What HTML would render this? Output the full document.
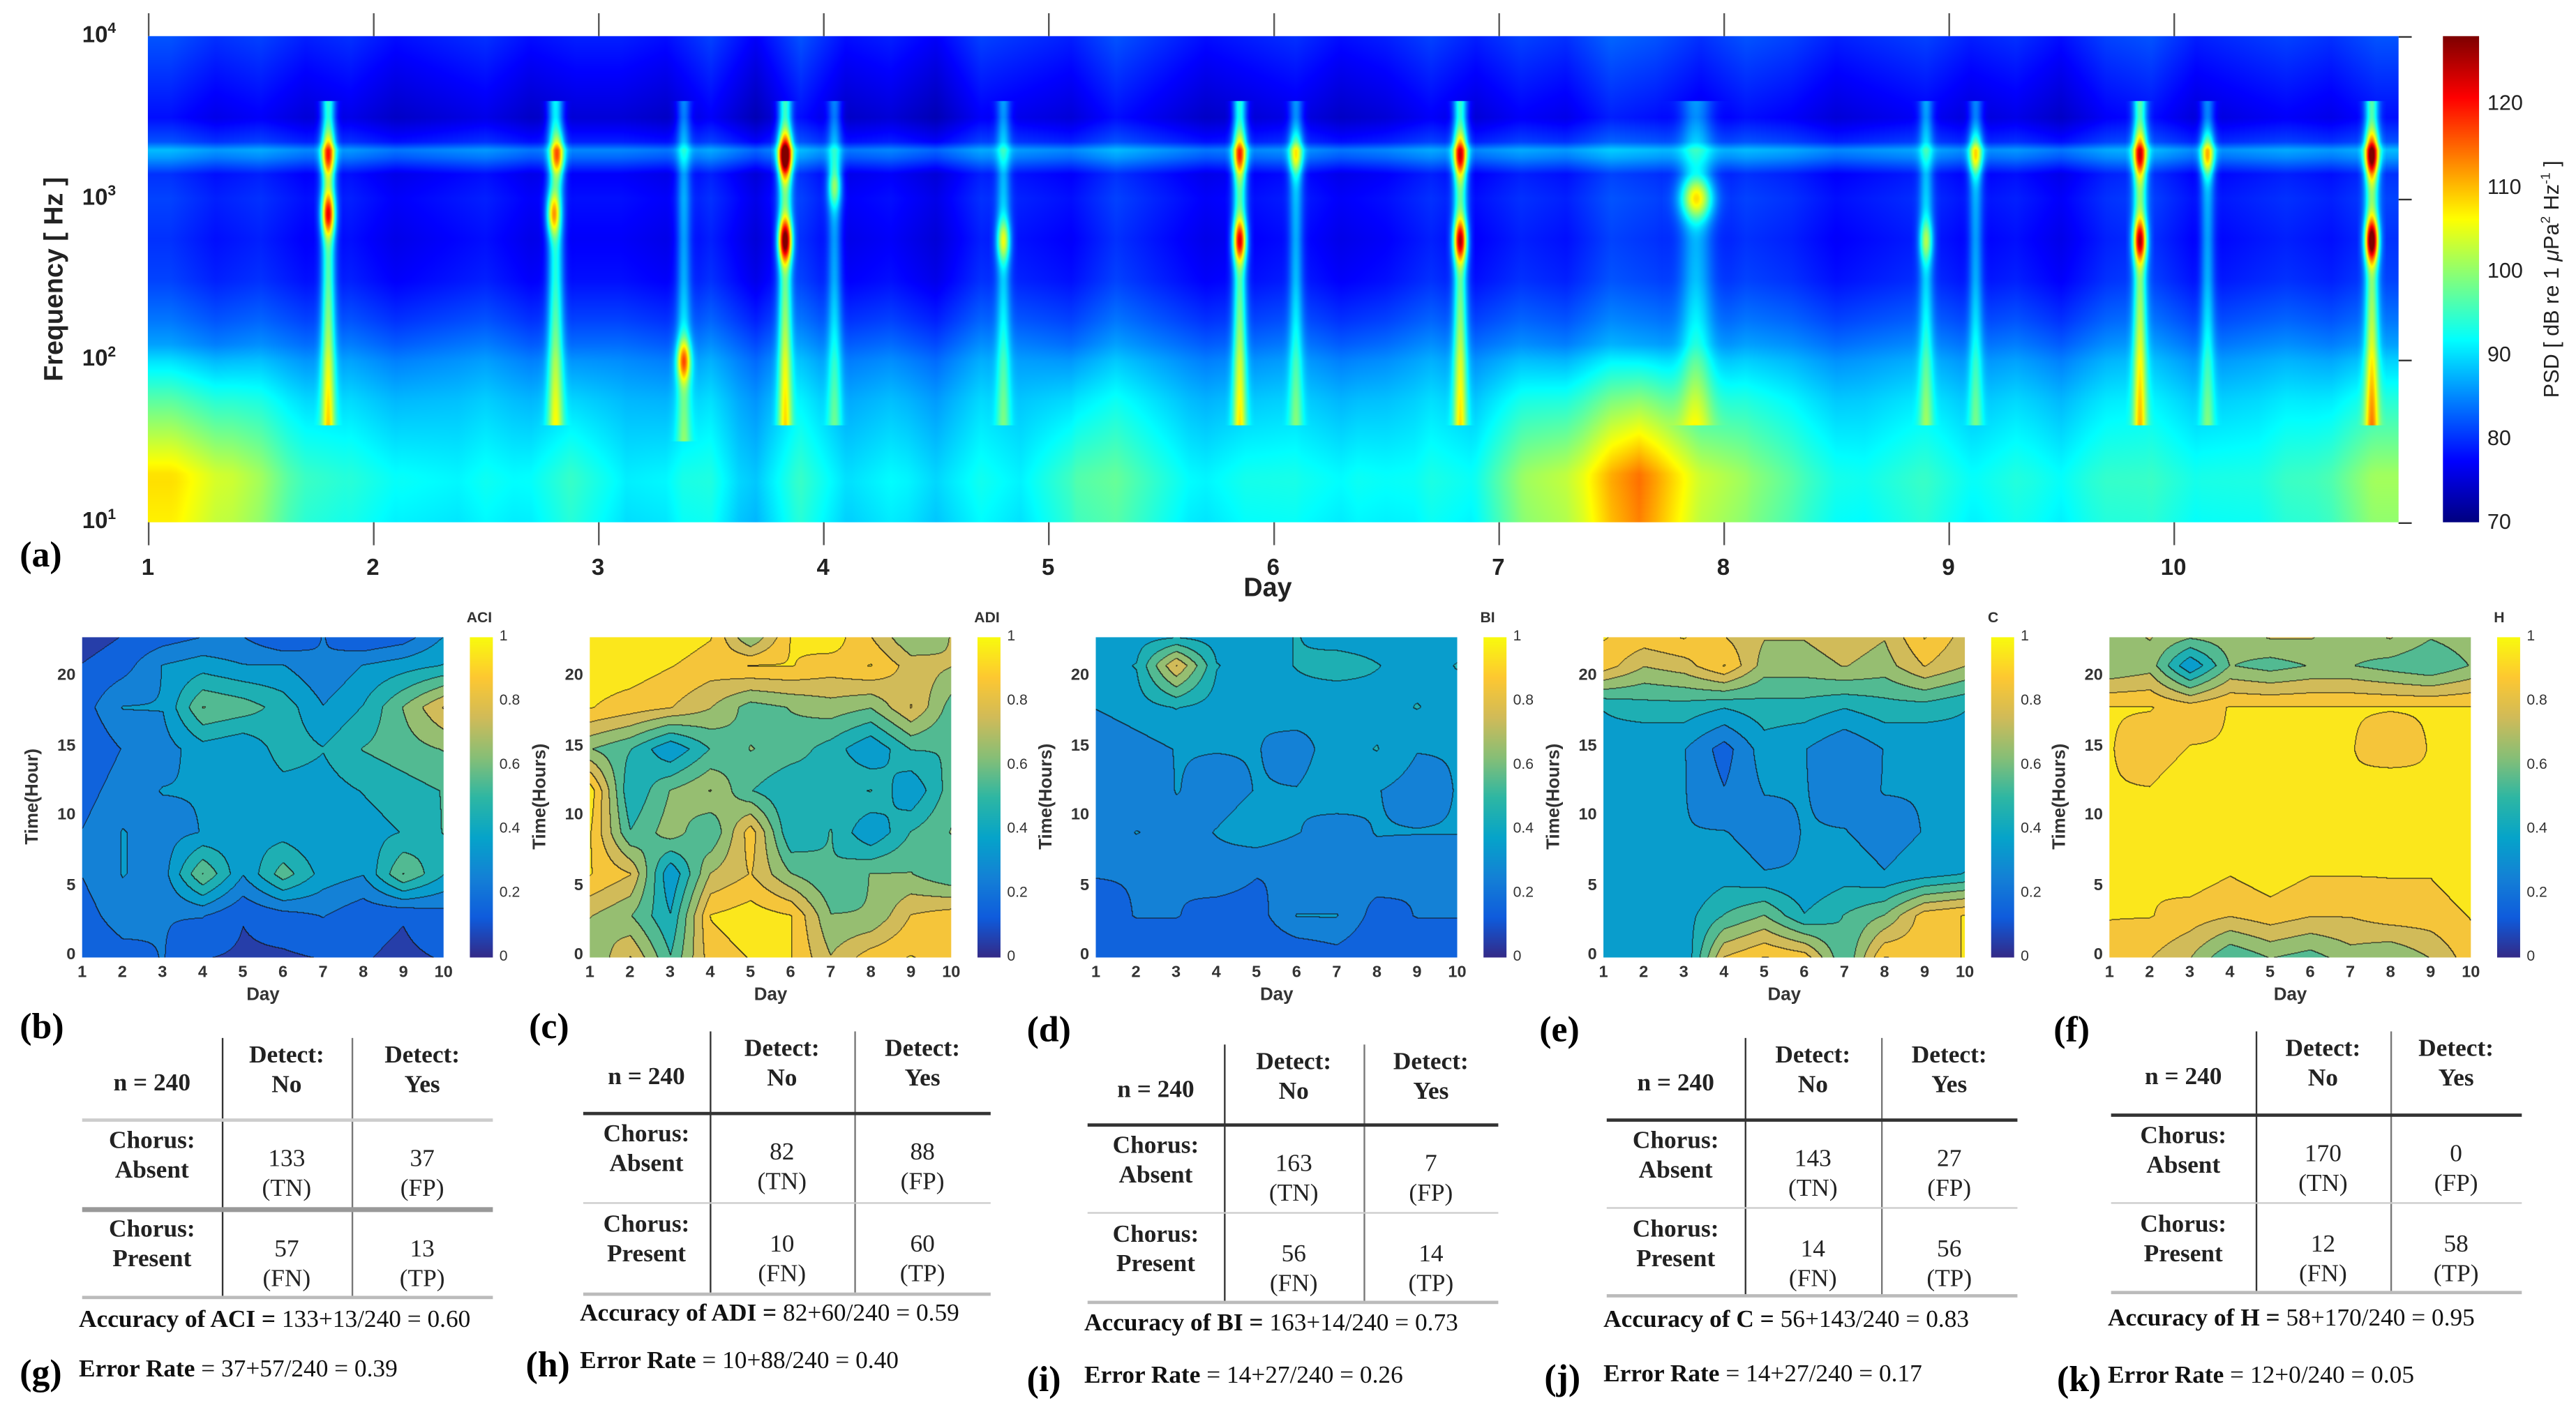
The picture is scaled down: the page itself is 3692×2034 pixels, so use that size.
<!DOCTYPE html>
<html><head><meta charset="utf-8">
<style>
html,body{margin:0;padding:0;background:#fff;}
#root{position:absolute;left:0;top:0;width:1568px;height:864px;transform:scale(2.35459,2.35417);transform-origin:0 0;font-family:"Liberation Sans",sans-serif;color:#222;}
.abs{position:absolute;}
.tk{position:absolute;font-size:10px;font-weight:bold;color:#333;}
.ser{font-family:"Liberation Serif",serif;font-weight:bold;color:#111;}
.lbl{position:absolute;font-family:"Liberation Serif",serif;font-weight:bold;font-size:22px;color:#000;}
.cell{position:absolute;text-align:center;font-family:"Liberation Serif",serif;font-size:15px;line-height:18px;}
.b{font-weight:bold;}
.ln{position:absolute;background:#333;}
</style></head>
<body>
<div id="root">
  <canvas id="spec" class="abs" style="left:90px;top:22px;width:1370px;height:296px"></canvas>
  <canvas id="specbar" class="abs" style="left:1487px;top:22px;width:22px;height:296px"></canvas>
  <div class="abs" style="left:-60px;top:160px;width:190px;height:20px;transform:rotate(-90deg);font-weight:bold;font-size:16px;text-align:center">Frequency [ Hz ]</div>
  <div class="abs" style="left:1450px;top:160px;width:210px;height:20px;transform:rotate(-90deg);font-size:13px;text-align:center">PSD [ dB re 1 <i>μ</i>Pa<sup style="font-size:8px">2</sup> Hz<sup style="font-size:8px">-1</sup> ]</div>
  <div class="abs" style="left:757px;top:350px;font-weight:bold;font-size:16px">Day</div>
  <div class="lbl" style="left:12px;top:325px">(a)</div>
  <div id="dyn"></div>
</div>
<script>
const S=2.3546;
const root=document.getElementById('dyn');
function mk(tag,cls,style,text){const e=document.createElement(tag);if(cls)e.className=cls;e.style.cssText=style;if(text!==undefined)e.innerHTML=text;root.appendChild(e);return e;}

// ---------- Spectrogram data ----------
const freqLog=[1,1.25,1.5,1.75,2,2.25,2.5,2.75,3,3.15,3.25,3.3,3.35,3.5,3.75,4];
const freqDb=[88,89,88,87,85,81,78,77,78,77,83,85,79,75,77,79];
const lowBandDb=[16,13,7,4, 4,2,3,6, 2,4,1,3, 2,3,2,1, 7,5,3,4, 3,4,2,3, 10,14,22,14, 8,5,3,4, 3,4,4,3, 4,3,5,9];
const midBandDb=[3,1,2,0,1, -1,0,1,-1,0, 0,-1,2,-2,3, -1,0,-2,2,1, 0,3,1,-1,0, 1,-1,0,2,0, 2,1,4,3,1, 3,2,0,1,2, 0,1,-1,2,3, 0,1,2,1,3];
const eventDay=[1.80,1.80,2.80,2.82,3.38,3.83,3.83,4.05,4.80,5.85,5.85,6.10,6.83,6.83,7.88,8.90,9.12,9.85,9.85,10.15,10.88,10.88];
const eventFreq=[800,1800,800,1800,100,1800,550,1200,550,550,1800,1800,550,1800,1000,550,1800,550,1800,1800,550,1800];
const eventPeak=[26,18,20,18,22,36,36,14,18,28,18,14,30,22,20,14,16,28,20,18,36,28];
const eventWidth=[0.03,0.03,0.03,0.03,0.03,0.03,0.03,0.03,0.03,0.03,0.03,0.03,0.03,0.03,0.07,0.03,0.03,0.03,0.03,0.03,0.03,0.03];
const dbMin=70, dbMax=128;

function jet(t){t=Math.max(0,Math.min(1,t));
  const r=Math.max(0,Math.min(1,1.5-Math.abs(4*t-3))),g=Math.max(0,Math.min(1,1.5-Math.abs(4*t-2))),b=Math.max(0,Math.min(1,1.5-Math.abs(4*t-1)));
  return [r*255,g*255,b*255];}
function interp(xs,ys,x){if(x<=xs[0])return ys[0];for(let i=1;i<xs.length;i++){if(x<=xs[i]){const f=(x-xs[i-1])/(xs[i]-xs[i-1]);return ys[i-1]+f*(ys[i]-ys[i-1]);}}return ys[ys.length-1];}
function binInterp(arr,pos){const p=Math.max(0,Math.min(arr.length-1,pos-0.5));const i=Math.floor(p),f=p-i;return arr[i]+(arr[Math.min(arr.length-1,i+1)]-arr[i])*f;}

const dayScale=d=>(d-1)*137;
const logScale=l=>(4-l)/3*296;
(function(){
  const c=document.getElementById('spec');const W=Math.round(1370*S),H=Math.round(296*S);c.width=W;c.height=H;
  const ctx=c.getContext('2d');const img=ctx.createImageData(W,H);
  const base=[];for(let y=0;y<H;y++){base.push(interp(freqLog,freqDb,4-3*y/H));}
  for(let x=0;x<W;x++){
    const day=1+x/S/137;
    const low=binInterp(lowBandDb,(day-1)*4);
    const mid=binInterp(midBandDb,(day-1)*5);
    const ew=eventDay.map((d,i)=>Math.exp(-Math.pow((day-d)/eventWidth[i],2)));
    for(let y=0;y<H;y++){
      const lf=4-3*y/H;
      let v=base[y]+mid+low*Math.max(0,Math.min(1,(2.1-lf)/0.8));
      for(let i=0;i<eventDay.length;i++){if(ew[i]<0.01)continue;
        const pl=Math.log10(eventFreq[i]);
        const streak=(lf>Math.min(1.6,pl-0.5)&&lf<3.6)?9:0;
        v+=ew[i]*(streak+eventPeak[i]*Math.exp(-Math.pow((lf-pl)/0.13,2)));}
      const col=jet((v-dbMin)/(dbMax-dbMin));const k=(y*W+x)*4;
      img.data[k]=col[0];img.data[k+1]=col[1];img.data[k+2]=col[2];img.data[k+3]=255;}
  }
  ctx.putImageData(img,0,0);
  const cb=document.getElementById('specbar');cb.width=52;cb.height=H;const cx=cb.getContext('2d');
  for(let y=0;y<H;y++){const col=jet(1-y/H);cx.fillStyle=`rgb(${col[0]|0},${col[1]|0},${col[2]|0})`;cx.fillRect(0,y,52,1);}
})();
const dayTicks=[1,2,3,4,5,6,7,8,9,10];
dayTicks.forEach(d=>{
  const x=90+dayScale(d);
  let e=mk('div','abs',`left:${x-8}px;top:337px;width:16px;text-align:center;font-size:14px;font-weight:bold`,String(d));
  
  
  e=mk('div','ln',`left:${x}px;top:8px;width:1px;height:14px;background:#555`);
  
  
  e=mk('div','ln',`left:${x}px;top:318px;width:1px;height:14px;background:#555`);
  
  
});
const freqTicks=[4,3,2,1];
freqTicks.forEach(p=>{
  const y=22+logScale(p);
  const e=mk('div','abs',`left:50px;top:${y-10}px;font-size:14px;font-weight:bold`,`10<sup style="font-size:9px">${p}</sup>`);
  
  
  const t=mk('div','ln',`left:1460px;top:${y}px;width:8px;height:1px`);
  
  
});
const psdTicks=[70,80,90,100,110,120];
psdTicks.forEach(v=>{
  const y=22+296*(1-(v-dbMin)/(dbMax-dbMin));
  const e=mk('div','abs',`left:1514px;top:${y-8}px;font-size:13px`,String(v));
  
  
});

// ---------- Contour panels ----------
const hours=[0,3,6,9,12,15,18,21,23];
const aciValues=[[0.1,0.15,0.2,0.1,0.08,0.08,0.1,0.1,0.08,0.1],[0.15,0.25,0.2,0.2,0.1,0.15,0.2,0.12,0.1,0.15],[0.2,0.3,0.25,0.6,0.3,0.55,0.35,0.3,0.6,0.4],[0.2,0.3,0.25,0.3,0.35,0.35,0.3,0.35,0.4,0.5],[0.15,0.25,0.3,0.3,0.3,0.35,0.35,0.4,0.45,0.5],[0.1,0.2,0.25,0.35,0.3,0.45,0.4,0.5,0.55,0.6],[0.15,0.3,0.3,0.6,0.55,0.45,0.3,0.4,0.6,0.8],[0.1,0.15,0.3,0.35,0.3,0.3,0.2,0.3,0.35,0.4],[0.05,0.1,0.15,0.2,0.2,0.1,0.2,0.1,0.15,0.3]];
const adiValues=[[0.6,0.8,0.5,0.85,0.9,0.9,0.7,0.85,0.9,0.85],[0.7,0.6,0.4,0.9,0.95,0.9,0.6,0.6,0.8,0.85],[0.9,0.8,0.3,0.7,0.8,0.6,0.5,0.6,0.6,0.5],[0.9,0.5,0.65,0.5,0.85,0.4,0.5,0.3,0.5,0.6],[0.95,0.4,0.6,0.7,0.5,0.4,0.45,0.5,0.3,0.55],[0.6,0.5,0.3,0.5,0.6,0.55,0.45,0.3,0.5,0.5],[0.9,0.85,0.8,0.7,0.55,0.6,0.65,0.6,0.8,0.55],[0.95,0.95,0.9,0.85,0.9,0.9,0.85,0.9,0.75,0.7],[0.95,0.95,0.95,0.9,0.6,0.9,0.95,0.8,0.6,0.7]];
const biValues=[[0.1,0.1,0.1,0.15,0.1,0.1,0.15,0.1,0.1,0.1],[0.15,0.2,0.2,0.15,0.15,0.3,0.3,0.15,0.2,0.2],[0.2,0.2,0.2,0.25,0.2,0.2,0.2,0.25,0.2,0.2],[0.2,0.3,0.25,0.3,0.35,0.3,0.25,0.3,0.3,0.3],[0.2,0.2,0.3,0.25,0.3,0.3,0.35,0.3,0.25,0.3],[0.2,0.25,0.3,0.3,0.3,0.25,0.35,0.4,0.3,0.3],[0.3,0.35,0.4,0.35,0.3,0.35,0.3,0.35,0.4,0.35],[0.35,0.4,0.8,0.4,0.35,0.4,0.45,0.4,0.35,0.4],[0.3,0.35,0.4,0.35,0.35,0.4,0.35,0.35,0.3,0.35]];
const cValues=[[0.3,0.35,0.3,0.8,0.9,0.85,0.5,0.9,0.85,0.9],[0.35,0.3,0.35,0.5,0.6,0.4,0.5,0.6,0.85,0.9],[0.3,0.35,0.3,0.35,0.3,0.3,0.35,0.3,0.35,0.4],[0.35,0.3,0.3,0.3,0.25,0.3,0.3,0.25,0.3,0.3],[0.3,0.35,0.3,0.2,0.3,0.3,0.25,0.3,0.3,0.3],[0.35,0.3,0.3,0.15,0.35,0.3,0.2,0.3,0.3,0.35],[0.4,0.45,0.45,0.4,0.45,0.45,0.4,0.45,0.45,0.4],[0.85,0.7,0.75,0.9,0.65,0.65,0.7,0.65,0.8,0.7],[0.9,0.85,0.9,0.8,0.7,0.7,0.75,0.7,0.9,0.75]];
const hValues=[[0.85,0.8,0.7,0.5,0.6,0.55,0.65,0.6,0.7,0.85],[0.9,0.9,0.85,0.8,0.85,0.8,0.8,0.85,0.85,0.9],[0.9,0.9,0.95,0.9,0.95,0.9,0.9,0.9,0.9,0.95],[0.9,0.95,0.9,0.95,0.95,0.9,0.95,0.9,0.95,0.95],[0.9,0.9,0.95,0.95,0.9,0.95,0.9,0.95,0.9,0.95],[0.9,0.85,0.9,0.9,0.95,0.9,0.9,0.85,0.9,0.9],[0.9,0.9,0.85,0.9,0.9,0.9,0.9,0.9,0.9,0.9],[0.6,0.65,0.3,0.6,0.55,0.6,0.6,0.55,0.5,0.6],[0.65,0.7,0.6,0.65,0.7,0.7,0.65,0.7,0.6,0.65]];
const panelNames=['ACI','ADI','BI','C','H'];
const panelYLabels=['Time(Hour)','Time(Hours)','Time(Hours)','Time(Hours)','Time(Hours)'];
const panelGrids=[aciValues,adiValues,biValues,cValues,hValues];
const panelLeft=[50,359,667,976,1284];

const parStops=[[53,42,135],[15,92,221],[20,129,214],[6,164,202],[46,183,164],[135,191,119],[209,187,89],[254,200,50],[249,251,14]];
function parula(t){t=Math.max(0,Math.min(1,t));const p=t*8,i=Math.min(7,Math.floor(p)),f=p-i;const a=parStops[i],b=parStops[i+1];return [a[0]+f*(b[0]-a[0]),a[1]+f*(b[1]-a[1]),a[2]+f*(b[2]-a[2])];}

function gridVal(G,day,hr){
  let di=Math.max(0,Math.min(8.9999,day-1));const i0=Math.floor(di),fx=di-i0;
  let j=0;while(j<hours.length-2&&hr>hours[j+1])j++;
  const fy=Math.max(0,Math.min(1,(hr-hours[j])/(hours[j+1]-hours[j])));
  const a=G[j][i0],b=G[j][i0+1],c=G[j+1][i0],d=G[j+1][i0+1];
  return a*(1-fx)*(1-fy)+b*fx*(1-fy)+c*(1-fx)*fy+d*fx*fy;}

panelGrids.forEach((G,pi)=>{
  const L=panelLeft[pi],T=388,PW=220,PH=195;
  const cv=mk('canvas','abs',`left:${L}px;top:${T}px;width:${PW}px;height:${PH}px`);
  
  
  const W=Math.round(PW*S),H=Math.round(PH*S);cv.width=W;cv.height=H;
  const ctx=cv.getContext('2d');const img=ctx.createImageData(W,H);
  const lev=new Int16Array(W*H);
  for(let y=0;y<H;y++)for(let x=0;x<W;x++){
    const day=1+9*x/(W-1),hr=23*(1-y/(H-1));
    lev[y*W+x]=Math.min(9,Math.floor(gridVal(G,day,hr)*10+0.05));}
  for(let y=0;y<H;y++)for(let x=0;x<W;x++){
    const k=y*W+x,l=lev[k];let col=parula((l+0.5)/10);
    if((x>0&&lev[k-1]!==l)||(y>0&&lev[k-W]!==l))col=[20,20,20];
    img.data[k*4]=col[0];img.data[k*4+1]=col[1];img.data[k*4+2]=col[2];img.data[k*4+3]=255;}
  ctx.putImageData(img,0,0);
  const cb=mk('canvas','abs',`left:${L+236}px;top:${T}px;width:14px;height:${PH}px`);
  
  
  cb.width=33;cb.height=H;const cx=cb.getContext('2d');
  for(let y=0;y<H;y++){const col=parula(1-y/H);cx.fillStyle=`rgb(${col[0]|0},${col[1]|0},${col[2]|0})`;cx.fillRect(0,y,33,1);}
  let e=mk('div','tk',`left:${L+234}px;top:${T-17}px;font-size:9px`,panelNames[pi]);
  
  
  [0,0.2,0.4,0.6,0.8,1].forEach(v=>{
    const t=mk('div','tk',`left:${L+254}px;top:${T+PH*(1-v)-6}px;font-size:9px;font-weight:normal`,String(v));
    
    });
  [0,5,10,15,20].forEach(h=>{
    const t=mk('div','tk',`left:${L-18}px;top:${T+PH*(1-h/23)-7}px;width:14px;text-align:right`,String(h));
    
    });
  [1,2,3,4,5,6,7,8,9,10].forEach(d=>{
    const t=mk('div','tk',`left:${L+(d-1)/9*PW-8}px;top:${T+PH+4}px;width:16px;text-align:center`,String(d));
    
    });
  e=mk('div','tk',`left:${L+PW/2-10}px;top:${T+PH+17}px;font-size:11px`,'Day');
  
  
  e=mk('div','tk',`left:${L-80}px;top:${T+PH/2-7}px;width:100px;text-align:center;transform:rotate(-90deg);font-size:11px`,panelYLabels[pi]);
  
  
});

// ---------- Tables ----------
const tables=[
 {lbl:'(b)',lx:12,ly:612,l:50,c1:135,c2:214,r:300,top:632,h1:681,h2:735,bot:789,acc:'Accuracy of ACI = <span style="font-weight:normal">133+13/240 = 0.60</span>',ay:796,el:'(g)',ex:12,ey:823,err:'Error Rate <span style="font-weight:normal">= 37+57/240 = 0.39</span>',tn:'133',fp:'37',fn:'57',tp:'13',h1c:'#ccc',h2c:'#999',h2w:3},
 {lbl:'(c)',lx:322,ly:612,l:355,c1:432,c2:520,r:603,top:628,h1:677,h2:732,bot:787,acc:'Accuracy of ADI = <span style="font-weight:normal">82+60/240 = 0.59</span>',ay:792,el:'(h)',ex:320,ey:818,err:'Error Rate <span style="font-weight:normal">= 10+88/240 = 0.40</span>',tn:'82',fp:'88',fn:'10',tp:'60',h1c:'#333',h2c:'#ccc',h2w:1},
 {lbl:'(d)',lx:625,ly:614,l:662,c1:745,c2:830,r:912,top:636,h1:684,h2:738,bot:792,acc:'Accuracy of BI = <span style="font-weight:normal">163+14/240 = 0.73</span>',ay:798,el:'(i)',ex:625,ey:827,err:'Error Rate <span style="font-weight:normal">= 14+27/240 = 0.26</span>',tn:'163',fp:'7',fn:'56',tp:'14',h1c:'#333',h2c:'#ccc',h2w:1},
 {lbl:'(e)',lx:937,ly:614,l:978,c1:1062,c2:1145,r:1228,top:632,h1:681,h2:735,bot:788,acc:'Accuracy of C = <span style="font-weight:normal">56+143/240 = 0.83</span>',ay:796,el:'(j)',ex:940,ey:826,err:'Error Rate <span style="font-weight:normal">= 14+27/240 = 0.17</span>',tn:'143',fp:'27',fn:'14',tp:'56',h1c:'#333',h2c:'#ccc',h2w:1},
 {lbl:'(f)',lx:1250,ly:614,l:1285,c1:1373,c2:1455,r:1535,top:628,h1:678,h2:732,bot:786,acc:'Accuracy of H = <span style="font-weight:normal">58+170/240 = 0.95</span>',ay:795,el:'(k)',ex:1252,ey:827,err:'Error Rate <span style="font-weight:normal">= 12+0/240 = 0.05</span>',tn:'170',fp:'0',fn:'12',tp:'58',h1c:'#333',h2c:'#ccc',h2w:1}
];
tables.forEach((t,i)=>{
  let e=mk('div','lbl',`left:${t.lx}px;top:${t.ly}px`,t.lbl);
  
  
  e=mk('div','lbl',`left:${t.ex}px;top:${t.ey}px`,t.el);
  
  
  e=mk('div','ln',`left:${t.c1}px;top:${t.top}px;width:1px;height:${t.bot-t.top}px`);
  
  
  e=mk('div','ln',`left:${t.c2}px;top:${t.top}px;width:1px;height:${t.bot-t.top}px;background:#777`);
  
  
  e=mk('div','ln',`left:${t.l}px;top:${t.h1}px;width:${t.r-t.l}px;height:1.5px;background:${t.h1c}`);
  
  
  e=mk('div','ln',`left:${t.l}px;top:${t.h2}px;width:${t.r-t.l}px;height:${t.h2w}px;background:${t.h2c}`);
  
  
  e=mk('div','ln',`left:${t.l}px;top:${t.bot}px;width:${t.r-t.l}px;height:2px;background:#bbb`);
  
  
  const w1=t.c1-t.l,w2=t.c2-t.c1,w3=t.r-t.c2;
  e=mk('div','cell b',`left:${t.l}px;top:${t.top+19}px;width:${w1}px`,'n = 240');
  
  
  e=mk('div','cell b',`left:${t.c1}px;top:${t.top+2}px;width:${w2}px`,'Detect:<br>No');
  
  
  e=mk('div','cell b',`left:${t.c2}px;top:${t.top+2}px;width:${w3}px`,'Detect:<br>Yes');
  
  
  e=mk('div','cell b',`left:${t.l}px;top:${t.h1+5}px;width:${w1}px`,'Chorus:<br>Absent');
  
  
  e=mk('div','cell b',`left:${t.l}px;top:${t.h2+5}px;width:${w1}px`,'Chorus:<br>Present');
  
  
  e=mk('div','cell',`left:${t.c1}px;top:${t.h1+16}px;width:${w2}px`,t.tn+'<br>(TN)');
  
  
  e=mk('div','cell',`left:${t.c2}px;top:${t.h1+16}px;width:${w3}px`,t.fp+'<br>(FP)');
  
  
  e=mk('div','cell',`left:${t.c1}px;top:${t.h2+17}px;width:${w2}px`,t.fn+'<br>(FN)');
  
  
  e=mk('div','cell',`left:${t.c2}px;top:${t.h2+17}px;width:${w3}px`,t.tp+'<br>(TP)');
  
  
  e=mk('div','abs ser',`left:${t.l-2}px;top:${t.ay}px;font-size:15px;white-space:nowrap`,t.acc);
  
  
  e=mk('div','abs ser',`left:${t.l-2}px;top:${t.ey+3}px;font-size:15px;white-space:nowrap`,t.err);
  
  
});
</script>
</body></html>
